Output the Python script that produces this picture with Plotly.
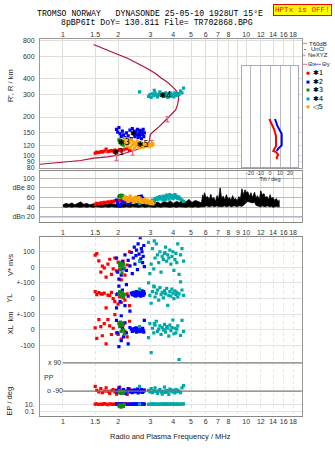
import math
import plotly.graph_objects as go

W, H = 335, 451

# ---------------- data ----------------
freq_ticks = [1, 1.5, 2, 3, 4, 5, 6, 7, 8, 9, 10, 12, 14, 16, 18]
freq_labels_top = ["1", "1.5", "2", "3", "4", "5", "6", "7", "8", "", "10", "12", "14", "16", "18"]
freq_labels_mid = ["1", "1.5", "2", "3", "4", "5", "6", "7", "8", "9", "10", "12", "14", "16", "18"]
height_ticks = [80, 90, 100, 120, 150, 200, 300, 400, 600, 800]
db_ticks = [20, 40, 60, 80, 100]
db_labels = ["dBn 20", "40", "60", "dBe 80", "100"]

# true-height profile (R)
prof_f = [0.75, 1.00, 1.25, 1.47, 1.75, 2.00, 2.22, 2.44, 2.65, 2.88, 2.95, 3.00, 3.15, 3.35, 3.70, 3.95,
          4.12, 4.22, 4.28, 4.26, 4.18, 4.05, 3.90, 3.70, 3.45, 3.20, 2.90, 2.60, 2.25, 1.82, 1.60, 1.47]
prof_h = [85, 88, 91, 95, 97, 100, 104, 109, 114, 121, 127, 146, 156, 168, 194, 212,
          228, 250, 280, 300, 318, 335, 355, 378, 404, 440, 480, 520, 580, 656, 705, 745]

# NeXYZ points with error bars
nexyz_f = [1.96, 2.40, 3.05, 3.72]
nexyz_h = [96, 105, 125, 192]
nexyz_err = [5, 5, 6, 9]

# echo groups
g1_f = [1.50, 1.53, 1.57, 1.61, 1.64, 1.68, 1.72, 1.76, 1.80, 1.84, 1.88, 1.92, 1.96, 2.00, 2.04, 2.08, 2.13, 2.18, 2.24, 2.31]
g1_h = [104, 106, 105, 107, 106, 108, 112, 107, 108, 109, 108, 110, 107, 109, 111, 108, 110, 112, 113, 109]
g1_amp = [46, 48, 47, 49, 48, 50, 49, 51, 50, 52, 51, 53, 54, 52, 55, 53, 56, 57, 58, 55]
g1_v = [78, 88, 42, -30, 8, -4, -62, 20, 52, -45, -10, 60, -23, 34, -11, -80, 40, -50, 15, 100]
g1_yl = [44, 25, 38, 30, 28, 35, -60, 22, 19, 40, 0, -19, 25, -35, 10, -25, 5, -10, 30, -45]
g1_xl = [13, -55, 65, 20, -38, 40, -90, 65, 25, -30, 10, 97, -20, -30, 45, -60, 30, -10, -45, 55]
g1_pp = [-60, -85, -95, -75, -100, -90, -70, -92, -105, -88, -80, -95, -110, -90, -65, -98, -85, -93, -112, -78]
g1_ep = [10, 12, 8, 11, 9, 14, 10, 7, 12, 10, 9, 11, 13, 8, 10, 12, 9, 15, 10, 11]

g2_f = [1.96, 1.99, 2.02, 2.05, 2.08, 2.11, 2.14, 2.18, 2.22, 2.27, 2.32, 2.36, 2.39, 2.42, 2.45, 2.47, 2.50, 2.52, 2.55, 2.57,
        2.60, 2.62, 2.64, 2.66, 2.68, 2.70, 2.72, 2.74, 2.76, 2.78]
g2_h = [160, 152, 165, 148, 140, 155, 145, 138, 150, 142, 158, 135, 162, 148, 155, 140, 152, 145, 160, 138,
        150, 142, 157, 147, 135, 153, 145, 160, 140, 150]
g2_amp = [55, 48, 44, 42, 46, 52, 58, 50, 54, 48, 56, 52, 50, 55, 58, 53, 56, 60, 54, 57,
          62, 58, 55, 60, 63, 57, 59, 54, 52, 56]
g2_v = [59, -30, -75, 20, -50, 35, -10, 80, -20, 45, 10, 95, -40, 60, 130, 20, 75, 110, -15, 150,
        85, 40, 190, 55, 120, 100, 30, 70, 140, 5]
g2_yl = [-60, 30, 80, -20, -110, 55, 20, -45, 90, 15, -80, 35, 25, 40, 20, 30, 15, 45, 25, 35,
         20, 40, 30, 15, 25, 50, 35, 20, 45, 30]
g2_xl = [60, -20, -108, 30, -70, 10, -45, 45, -20, -90, 15, 5, -10, 0, 8, -5, 12, -15, 3, 10,
         -8, 5, -12, 0, 8, -5, 10, -3, -15, 60]
g2_pp = [-85, -95, -70, -100, -88, -92, -80, -105, -90, -75, -95, -85, -100, -90, -82, -96, -88, -93, -78, -102,
         -90, -85, -95, -88, -80, -92, -98, -86, -90, -84]
g2_ep = [10, 9, 11, 10, 12, 10, 8, 11, 10, 9, 10, 11, 10, 9, 12, 10, 11, 10, 9, 10,
         11, 10, 12, 9, 10, 11, 10, 10, 9, 11]

g3_f = [2.02, 2.04, 2.06, 2.08, 2.10, 2.12, 2.14, 2.16]
g3_h = [132, 128, 125, 130, 122, 127, 120, 124]
g3_amp = [62, 64, 63, 65, 61, 64, 62, 60]
g3_v = [30, 10, -15, 25, -35, 5, 20, -5]
g3_yl = [30, 45, 15, 40, 20, 35, 10, 25]
g3_xl = [40, 20, 50, -10, 30, 45, 0, -25]
g3_pp = [-95, -100, -90, -105, -98, -92, -102, -96]
g3_ep = [4, 2, 6, 1.5, 3, 5, 2.5, 8]

g4_f = [2.62, 2.93, 2.98, 3.03, 3.08, 3.13, 3.18, 3.23, 3.28, 3.33, 3.38, 3.43, 3.48, 3.53, 3.58, 3.63, 3.68,
        3.73, 3.78, 3.83, 3.88, 3.93, 3.98, 4.03, 4.08, 4.13, 4.18, 4.23, 4.30, 4.38, 4.46, 4.55, 3.15, 3.60]
g4_h = [315, 290, 300, 285, 305, 295, 310, 298, 288, 302, 315, 296, 305, 290, 300, 310, 295,
        285, 305, 298, 308, 292, 300, 288, 310, 302, 296, 306, 300, 320, 310, 338, 325, 292]
g4_amp = [48, 50, 47, 52, 55, 53, 58, 56, 60, 57, 62, 59, 55, 63, 60, 58, 65,
          62, 57, 66, 60, 64, 58, 62, 66, 60, 63, 58, 61, 57, 55, 52, 50, 54]
g4_v = [40, 160, -40, 20, 120, -10, 60, 150, 80, 30, 100, -30, 70, 50, 90, 130, 40,
        80, 60, 110, 20, 70, 100, -20, 50, 90, 30, 150, -45, 80, 120, 40, 170, 95]
g4_yl = [60, 100, 20, -30, 45, 80, 10, 35, 55, -10, 70, 25, 40, 5, 50, 30, 65,
         -44, 20, 45, 15, 60, 35, 0, 50, 25, 40, 10, 30, 107, 55, 20, 75, 35]
g4_xl = [20, -50, 40, -146, 10, -20, 30, 55, -10, 5, 25, -30, 15, 0, 35, -15, 20,
         10, -40, 30, -5, 15, 63, -25, 10, -20, 5, 25, -190, -35, 60, -10, 40, 0]
g4_pp = [-60, -85, -95, -75, -100, -90, -70, -92, -105, -88, -80, -95, -110, -90, -65, -98, -85,
         -93, -112, -78, -90, -84, -96, -88, -102, -80, -94, -86, -92, -100, -70, -55, -88, -95]
g4_ep = [10, 9, 11, 10, 12, 10, 8, 11, 10, 9, 10, 11, 10, 9, 12, 10, 11,
         10, 9, 10, 11, 10, 12, 9, 10, 11, 10, 10, 9, 11, 10, 12, 10, 9]

g5_f = [2.15, 2.18, 2.21, 2.24, 2.27, 2.30, 2.33, 2.36, 2.39, 2.42, 2.45, 2.48, 2.51, 2.54, 2.57, 2.60, 2.63, 2.66,
        2.70, 2.74, 2.78, 2.82, 2.86, 2.90, 2.95, 3.00, 3.05, 3.10]
g5_h = [128, 135, 122, 118, 130, 125, 115, 132, 120, 127, 113, 124, 118, 130, 122, 115, 126, 119,
        123, 116, 121, 118, 124, 120, 117, 122, 119, 123]
g5_amp = [58, 62, 55, 60, 52, 57, 63, 54, 59, 50, 56, 61, 53, 58, 55, 60, 52, 57,
          54, 50, 56, 53, 49, 55, 51, 48, 52, 47]

label_text = ["✱1", "✱3", "✱2", "✱5", "✱4"]
label_f = [2.00, 2.15, 2.50, 2.72, 3.62]
label_h = [104, 126, 146, 120, 293]

# receiver noise band (dB)
noise_f = [1.00, 1.04, 1.08, 1.12, 1.16, 1.20, 1.25, 1.30, 1.35, 1.40, 1.46, 1.52, 1.58, 1.64, 1.70, 1.77, 1.84, 1.91,
           1.98, 2.06, 2.14, 2.22, 2.31, 2.40, 2.50, 2.60, 2.70, 2.81, 2.92, 3.04, 3.16, 3.29, 3.42, 3.56, 3.70, 3.85,
           4.00, 4.16, 4.33, 4.50, 4.68, 4.87, 5.06, 5.26, 5.47, 5.69, 5.80, 5.86, 5.92, 6.04, 6.16, 6.28, 6.40, 6.53,
           6.66, 6.80, 6.93, 7.06, 7.20, 7.34, 7.49, 7.64, 7.79, 7.94, 8.10, 8.26, 8.42, 8.59, 8.76, 8.93, 9.11, 9.29,
           9.47, 9.66, 9.85, 10.0, 10.2, 10.4, 10.6, 10.8, 11.1, 11.3, 11.5, 11.8, 12.0, 12.2, 12.5, 12.7, 13.0, 13.2,
           13.5, 13.7, 14.0, 14.3, 14.6, 14.9, 15.2]
noise_hi = [45, 48, 46, 49, 45, 47, 51, 46, 48, 45, 47, 46, 48, 45, 47, 46, 48, 46,
            47, 45, 47, 46, 48, 46, 47, 49, 46, 48, 47, 50, 48, 51, 47, 52, 49, 53,
            48, 52, 50, 55, 51, 56, 50, 54, 52, 49, 66, 58, 70, 60, 62, 55, 67, 57,
            60, 52, 64, 56, 80, 58, 63, 55, 66, 57, 60, 54, 64, 56, 58, 53, 62, 57,
            78, 66, 76, 70, 72, 62, 70, 60, 71, 58, 64, 56, 74, 66, 68, 60, 62, 55,
            66, 58, 60, 54, 58, 52, 55]
noise_lo = [41, 40, 41, 40, 41, 40, 40, 41, 40, 41, 40, 41, 40, 40, 41, 40, 41, 40,
            40, 41, 40, 41, 40, 41, 40, 40, 41, 40, 41, 40, 40, 41, 40, 41, 40, 40,
            41, 40, 41, 40, 40, 41, 40, 41, 40, 41, 42, 41, 41, 43, 42, 41, 42, 43,
            41, 42, 43, 41, 42, 41, 42, 43, 41, 42, 43, 41, 42, 43, 42, 41, 43, 42,
            42, 44, 48, 50, 52, 51, 50, 49, 51, 44, 43, 42, 41, 43, 42, 41, 43, 42,
            41, 42, 40, 41, 42, 41, 41]

# tilt inset
tiltx_h = [193, 176, 161, 142, 118, 111, 108, 106, 101, 96.5, 93]
tiltx_deg = [-0.7, 1.7, 4, 6, 6, 4, 3.3, 6, 8.3, 6.7, 7.3]
tilty_h = [193, 171, 156, 148, 120, 117, 113, 108]
tilty_deg = [5, 7.3, 10, 11.7, 11.7, 10, 8.3, 6.7]
tilt_ticks = [-20, -10, 0, 10, 20]

# lower panel track layout (offsets in plot units)
lower_ticks = [100, 0, -100, -200, -300, -400, -500, -876, -922]
lower_labels = ["100", "0", "+-100", "0", "+-100", "0", "-100", "10.", "0.1"]

COL = {1: "#ff0000", 2: "#0000ff", 3: "#138a13", 4: "#00a8a8", 5: "#ffa500"}

groups = [
    (1, g1_f, g1_h, g1_amp, g1_v, g1_yl, g1_xl, g1_pp, g1_ep),
    (2, g2_f, g2_h, g2_amp, g2_v, g2_yl, g2_xl, g2_pp, g2_ep),
    (3, g3_f, g3_h, g3_amp, g3_v, g3_yl, g3_xl, g3_pp, g3_ep),
    (4, g4_f, g4_h, g4_amp, g4_v, g4_yl, g4_xl, g4_pp, g4_ep),
    (5, g5_f, g5_h, g5_amp, None, None, None, None, None),
]

# ---------------- figure ----------------
fig = go.Figure()
MS = 3.2

# top panel
fig.add_trace(go.Scatter(x=prof_f, y=prof_h, mode="lines", line=dict(color="#b0103c", width=1.2),
                         xaxis="x", yaxis="y", hoverinfo="skip"))
fig.add_trace(go.Scatter(x=nexyz_f, y=nexyz_h, mode="markers", marker=dict(size=1, color="#e86a92"),
                         error_y=dict(type="data", array=nexyz_err, color="#e86a92", width=2, thickness=1.3),
                         xaxis="x", yaxis="y"))
for gid, f, h, amp, v, yl, xl, pp, ep in groups:
    c = COL[gid]
    fig.add_trace(go.Scatter(x=f, y=h, mode="markers", xaxis="x", yaxis="y",
                             marker=dict(symbol="square", size=MS, color=c, line=dict(width=0))))
    if v is not None:
        xs = f * 5
        ys = (list(v) + [q - 200 for q in yl] + [q - 400 for q in xl] + [q - 702 for q in pp]
              + [-899 + 23 * math.log10(q) for q in ep])
        fig.add_trace(go.Scatter(x=xs, y=ys, mode="markers", xaxis="x3", yaxis="y3",
                                 marker=dict(symbol="square", size=MS, color=c, line=dict(width=0))))

fig.add_trace(go.Scatter(x=label_f, y=label_h, mode="text", text=label_text, xaxis="x", yaxis="y",
                         textfont=dict(family="DejaVu Sans", size=8, color="black")))

# dB panel noise band
fig.add_trace(go.Scatter(x=noise_f, y=noise_lo, mode="lines", line=dict(color="black", width=0.8),
                         xaxis="x2", yaxis="y2"))
fig.add_trace(go.Scatter(x=noise_f, y=noise_hi, mode="lines", line=dict(color="black", width=0.8),
                         fill="tonexty", fillcolor="black", xaxis="x2", yaxis="y2"))
for gid, f, h, amp, *_ in groups:
    fig.add_trace(go.Scatter(x=f, y=amp, mode="markers", xaxis="x2", yaxis="y2",
                             marker=dict(symbol="square", size=MS, color=COL[gid], line=dict(width=0))))

# inset tilt
fig.add_trace(go.Scatter(x=tiltx_deg, y=tiltx_h, mode="lines", line=dict(color="#ff0000", width=2),
                         xaxis="x4", yaxis="y4"))
fig.add_trace(go.Scatter(x=tilty_deg, y=tilty_h, mode="lines", line=dict(color="#0000ff", width=2),
                         xaxis="x4", yaxis="y4"))


def dom_x(a, b):
    return [a / W, b / W]


def dom_y(top, bottom):
    return [1 - bottom / H, 1 - top / H]


TF = dict(family="Liberation Sans", size=7, color="#333")
GRID = "#dedede"
XR = [-0.125, 1.304]
XD = dom_x(40, 302)

fig.update_layout(
    width=W, height=H, autosize=False, margin=dict(l=0, r=0, t=0, b=0),
    paper_bgcolor="#ffffff", plot_bgcolor="#fffffe", showlegend=False,
    xaxis=dict(type="log", range=XR, domain=XD, anchor="y", side="top", tickvals=freq_ticks,
               ticktext=freq_labels_top, tickfont=TF, gridcolor=GRID, showline=True, mirror=True,
               linecolor="#999", ticks="", zeroline=False, tickangle=0, ticklabelstandoff=-2),
    yaxis=dict(type="log", range=[1.8988, 2.9183], domain=dom_y(37, 168), anchor="x", tickvals=height_ticks,
               ticktext=[str(t) for t in height_ticks], tickfont=TF, gridcolor=GRID, showline=True,
               mirror=True, linecolor="#999", ticks="", ticklabelstandoff=3),
    xaxis2=dict(type="log", range=XR, domain=XD, anchor="y2", tickvals=freq_ticks, ticktext=freq_labels_mid,
                tickfont=TF, gridcolor=GRID, showline=True, mirror=True, linecolor="#888", ticks="",
                zeroline=False, tickangle=0, ticklabelstandoff=4),
    yaxis2=dict(range=[10.6, 114.6], domain=dom_y(171, 222), anchor="x2", tickvals=db_ticks,
                ticktext=db_labels, tickfont=TF, gridcolor="#bbbbbb", showline=True, mirror=True,
                linecolor="#999", ticks="", zeroline=False, ticklabelstandoff=3),
    xaxis3=dict(type="log", range=XR, domain=XD, anchor="y3", tickvals=freq_ticks, ticktext=freq_labels_top,
                tickfont=TF, gridcolor="#e4e4e4", griddash="dot", showline=True, mirror=True,
                linecolor="#888", ticks="", zeroline=False, tickangle=0, ticklabelstandoff=-2),
    yaxis3=dict(range=[-954, 192], domain=dom_y(238, 419), anchor="x3", tickvals=lower_ticks,
                ticktext=lower_labels, tickfont=TF, gridcolor="#e2e2ea", showline=True, mirror=True,
                linecolor="#999", ticks="", zeroline=False, ticklabelstandoff=3),
    xaxis4=dict(range=[-28, 28], domain=dom_x(242, 298), anchor="y4", tickvals=tilt_ticks,
                ticktext=[str(t) for t in tilt_ticks], tickangle=0,
                tickfont=dict(family="Liberation Sans", size=5.5, color="#333"),
                title=dict(text="Tilt / deg", font=dict(family="Liberation Sans", size=5.5, color="#333"), standoff=0),
                gridcolor="#b8b8c8", showline=True, mirror=True, linecolor="#a8a8c0", ticks="",
                zeroline=False, ticklabelstandoff=0),
    yaxis4=dict(type="log", range=[1.9066, 2.7004], domain=dom_y(65, 167), anchor="x4",
                showticklabels=False, showgrid=False, showline=True, mirror=True, linecolor="#a8a8c0",
                ticks="", zeroline=False),
)

shapes = []
ann = []


def note(text, x, y, font, xanchor="center", yanchor="middle", **kw):
    d = dict(text=text, x=x / W, y=1 - y / H, xref="paper", yref="paper", showarrow=False,
             xanchor=xanchor, yanchor=yanchor, font=font, borderpad=0)
    d.update(kw)
    ann.append(d)


# PP reference lines in lower panel
for yv in (-612, -792):
    shapes.append(dict(type="line", xref="x3", yref="y3", x0=1.0, x1=20.1, y0=yv, y1=yv,
                       line=dict(color="#777", width=1.3)))
# dBn 20 line
shapes.append(dict(type="line", xref="x2 domain", yref="y2", x0=0, x1=1, y0=20, y1=20,
                   line=dict(color="#aab0d8", width=1.2)))

MONO = "Liberation Mono"
note("TROMSO NORWAY   DYNASONDE 25-05-10 1928UT 15°E", 150, 12, dict(family=MONO, size=8.2, color="black"))
note("8pBP6It DoY= 130.811 File= TR702868.BPG", 157, 21, dict(family=MONO, size=8.2, color="black"))
note("HPTx is OFF!", 302.5, 8, dict(family=MONO, size=7.6, color="#ff0000"),
     bgcolor="#ffff00", bordercolor="#ff0000", borderwidth=1, borderpad=1)
note("Radio and Plasma Frequency / MHz", 170, 439, dict(family="Liberation Sans", size=7.5, color="#222"))
SIDE = dict(family="Liberation Sans", size=7.5, color="#222")
for txt, yy in [("R', R / km", 85), ("V* m/s", 266), ("YL", 300), ("km", 318), ("XL", 332), ("EP / deg", 404)]:
    note(txt, 10, yy, SIDE, textangle=-90)
for txt, xx, yy in [("x 90", 47, 365), ("PP", 43, 380), ("o -90", 46, 393)]:
    note(txt, xx, yy, TF, xanchor="left")

# legend
LF = dict(family="Liberation Sans", size=6, color="#222")
shapes.append(dict(type="line", xref="paper", yref="paper", x0=303 / W, x1=307 / W, y0=1 - 42 / H, y1=1 - 42 / H,
                   line=dict(color="#999", width=1)))
note("T60dB", 308, 42, LF, xanchor="left")
shapes.append(dict(type="rect", xref="paper", yref="paper", x0=304.5 / W, x1=305.5 / W, y0=1 - 48.5 / H,
                   y1=1 - 47.5 / H, line=dict(width=0), fillcolor="black"))
note("UnCl", 310, 48, LF, xanchor="left")
note("+", 304, 54, dict(family="Liberation Sans", size=7, color="#e86a92"))
note("NeXYZ", 307, 54, LF, xanchor="left")
shapes.append(dict(type="line", xref="paper", yref="paper", x0=302 / W, x1=307 / W, y0=1 - 63 / H, y1=1 - 63 / H,
                   line=dict(color="#e86a92", width=1)))
note("Θx", 307, 63, LF, xanchor="left")
shapes.append(dict(type="line", xref="paper", yref="paper", x0=315 / W, x1=321 / W, y0=1 - 63 / H, y1=1 - 63 / H,
                   line=dict(color="#6a6aff", width=1)))
note("Θy", 321, 63, LF, xanchor="left")
for gid, txt, yy in [(1, "✱1", 72), (2, "✱2", 81), (3, "✱3", 89), (4, "✱4", 98), (5, "◁5", 106)]:
    shapes.append(dict(type="rect", xref="paper", yref="paper", x0=306.5 / W, x1=309.5 / W,
                       y0=1 - (yy + 1.5) / H, y1=1 - (yy - 1.5) / H, line=dict(width=0), fillcolor=COL[gid]))
    note(txt, 312, yy, dict(family="DejaVu Sans", size=7, color="black"), xanchor="left")

fig.update_layout(shapes=shapes, annotations=ann)
fig.write_html("out.html")
